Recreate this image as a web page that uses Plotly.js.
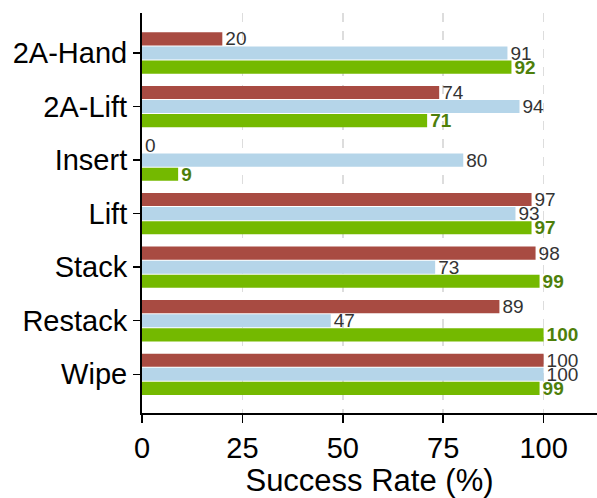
<!DOCTYPE html>
<html>
<head>
<meta charset="utf-8">
<script src="https://cdn.plot.ly/plotly-3.0.1.min.js"></script>
<style>html,body{margin:0;padding:0;background:#fff;}#chart{width:597px;height:498px;}</style>
</head>
<body>
<div id="chart"></div>
<script>
const tasks = ["2A-Hand", "2A-Lift", "Insert", "Lift", "Stack", "Restack", "Wipe"];
const seriesRed = [20, 74, 0, 97, 98, 89, 100];
const seriesBlue = [91, 94, 80, 93, 73, 47, 100];
const seriesGreen = [92, 71, 9, 97, 99, 100, 99];
const xTicks = [0, 25, 50, 75, 100];

const font = "Arial, 'Liberation Sans', sans-serif";
function bar(vals, color, txtColor, bold) {
  return {
    type: "bar", orientation: "h", y: tasks, x: vals,
    marker: {color: color},
    text: vals.map(v => bold ? "<b>" + v + "</b>" : String(v)),
    textposition: "outside", constraintext: "none", cliponaxis: false,
    textfont: {family: font, size: 19, color: txtColor},
    hoverinfo: "none", showlegend: false
  };
}
const data = [
  bar(seriesRed, "#A84B42", "#333333", false),
  bar(seriesBlue, "#B5D5E9", "#333333", false),
  bar(seriesGreen, "#74B900", "#4E7F0A", true)
];
const layout = {
  width: 597, height: 498,
  margin: {l: 142, r: 0, t: 13, b: 85},
  paper_bgcolor: "#fff", plot_bgcolor: "#fff",
  barmode: "group", bargap: 0.21, bargroupgap: 0.07,
  font: {family: font, color: "#000"},
  xaxis: {
    range: [0, 113.3], tickvals: xTicks, ticktext: xTicks.map(String),
    showline: true, linecolor: "#000", linewidth: 2,
    ticks: "outside", ticklen: 8, tickwidth: 1.5, tickcolor: "#000",
    tickfont: {family: font, size: 29, color: "#000"},
    showgrid: true, gridcolor: "#dddddd", griddash: "dash", gridwidth: 1.5,
    zeroline: false,
    title: {text: "Success Rate (%)", font: {family: font, size: 31, color: "#000"}, standoff: 8}
  },
  yaxis: {
    type: "category", range: [6.723, -0.747],
    showline: true, linecolor: "#000", linewidth: 2,
    ticks: "outside", ticklen: 7, tickwidth: 1.5, tickcolor: "#000",
    tickfont: {family: font, size: 29, color: "#000"},
    showgrid: false, zeroline: false
  }
};
Plotly.newPlot("chart", data, layout, {displayModeBar: false, staticPlot: true});
</script>
</body>
</html>
